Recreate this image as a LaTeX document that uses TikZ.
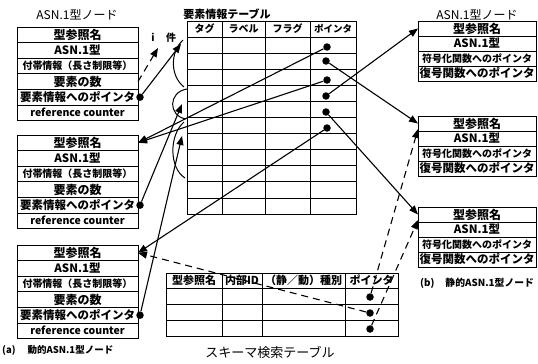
\documentclass[tikz,border=0pt]{standalone}
\usepackage{fontspec}
\setmainfont{Noto Sans CJK JP}
\usetikzlibrary{arrows.meta}
\newcommand{\myfs}[1]{\fontsize{#1}{#1}\selectfont\bfseries}
\newcommand{\myfr}[1]{\fontsize{#1}{#1}\selectfont}
\begin{document}
\begin{tikzpicture}[x=1pt,y=-1pt,
  cell/.style={draw, line width=1pt, anchor=north west, inner sep=0pt, outer sep=0pt},
  lrow/.style={cell, minimum width=121pt, minimum height=15.6pt},
  rrow/.style={cell, minimum width=118pt, minimum height=15pt},
  erow/.style={cell, minimum height=16.1pt},
  srow/.style={cell, minimum height=16pt},
  dot/.style={circle, fill=black, inner sep=0pt, minimum size=7.5pt},
  conn/.style={line width=1.1pt, -{Triangle[length=9pt,width=7pt]}},
  dconn/.style={conn, dash pattern=on 7pt off 5pt},
  brace/.style={line width=1pt},
  lbl/.style={inner sep=0pt},
]
\useasboundingbox (0,0) rectangle (538,364);

% ---------- left (dynamic) ASN.1 nodes ----------
\foreach \n/\t in {L1/27,L2/135,L3/245}{
  \node[lrow,font=\myfs{12}]   (\n-1) at (17,\t) {型参照名};
  \node[lrow,font=\myfs{11.5}] (\n-2) at (17,{\t+15.6}) {ASN.1型};
  \node[lrow,font=\myfs{10}]   (\n-3) at (17,{\t+31.2}) {付帯情報（長さ制限等）};
  \node[lrow,font=\myfs{12}]   (\n-4) at (17,{\t+46.8}) {要素の数};
  \node[lrow,font=\myfs{11.5}] (\n-5) at (17,{\t+62.4}) {要素情報へのポインタ};
  \node[lrow,font=\myfs{10.5}] (\n-6) at (17,{\t+78}) {reference counter};
  \node[dot] (\n-p) at ([xshift=2pt]\n-5.east) {};
}

% ---------- right (static) ASN.1 nodes ----------
\foreach \n/\t in {R1/21,R2/116,R3/207}{
  \node[rrow,font=\myfs{12}]   (\n-1) at (418,\t) {型参照名};
  \node[rrow,font=\myfs{11.5}] (\n-2) at (418,{\t+15}) {ASN.1型};
  \node[rrow,font=\myfs{10}]   (\n-3) at (418,{\t+30}) {符号化関数へのポインタ};
  \node[rrow,font=\myfs{11.5}] (\n-4) at (418,{\t+45}) {復号関数へのポインタ};
}

% ---------- element information table ----------
\node[erow,minimum width=35pt,font=\myfs{10}]  (E-0-1) at (187,21) {タグ};
\node[erow,minimum width=43pt,font=\myfs{10}]  (E-0-2) at (222,21) {ラベル};
\node[erow,minimum width=45pt,font=\myfs{10}]  (E-0-3) at (265,21) {フラグ};
\node[erow,minimum width=46pt,font=\myfs{9.5}] (E-0-4) at (310,21) {ポインタ};
\foreach \r in {1,...,11}{
  \foreach \c/\x/\w in {1/187/35,2/222/43,3/265/45,4/310/46}{
    \node[erow,minimum width=\w pt] (E-\r-\c) at (\x,{37+16.1*(\r-1)}) {};
  }
}

% ---------- schema search table ----------
\node[srow,minimum height=15pt,minimum width=56pt,font=\myfs{11}] (S-0-1) at (166,273) {型参照名};
\node[srow,minimum height=15pt,minimum width=40pt,font=\myfs{11}] (S-0-2) at (222,273) {内部ID};
\node[srow,minimum height=15pt,minimum width=83pt,font=\myfs{11}] (S-0-3) at (262,273) {（静／動）種別};
\node[srow,minimum height=15pt,minimum width=53pt,font=\myfs{11}] (S-0-4) at (345,273) {ポインタ};
\foreach \r in {1,2,3}{
  \foreach \c/\x/\w in {1/166/56,2/222/40,3/262/83,4/345/53}{
    \node[srow,minimum width=\w pt] (S-\r-\c) at (\x,{288+16*(\r-1)}) {};
  }
}

% ---------- titles / captions ----------
\node[lbl,font=\myfr{12}] (t1) at (77,15) {ASN.1型ノード};
\node[lbl,font=\myfr{12}] (t2) at (477,15) {ASN.1型ノード};
\node[lbl,font=\myfs{11}] (t3) at (227,14) {要素情報テーブル};
\node[lbl,font=\myfr{13}] (t4) at (270,352) {スキーマ検索テーブル};
\node[lbl,font=\myfs{9.5},anchor=west] (ca) at (2,350) {(a)\hspace{12pt}動的ASN.1型ノード};
\node[lbl,font=\myfs{9.8},anchor=west] (cb) at (420,283) {(b)\hspace{11pt}静的ASN.1型ノード};
\node[lbl,font=\myfs{10}] (li) at (153,37) {i};
\node[lbl,font=\myfs{10}] (lk) at (171,38) {件};

% ---------- pointer dots ----------
\node[dot] (ed1) at (327,47) {};
\node[dot] (ed2) at (326,61) {};
\node[dot] (ed3) at (327,80) {};
\node[dot] (ed4) at (326,96) {};
\node[dot] (ed5) at (326,112) {};
\node[dot] (ed6) at (327,128) {};
\node[dot] (sd1) at (370,297) {};
\node[dot] (sd2) at (370,313) {};
\node[dot] (sd3) at (370,329) {};

% ---------- range brackets beside the element table ----------
\draw[brace] (183,40) .. controls (170,52) and (170,76) .. (184,87);
\draw[brace] (187,89) .. controls (168,92) and (168,116) .. (186,119);
\draw[brace] (184,122) .. controls (169,135) and (169,168) .. (185,178);

\coordinate (ca1) at (181,44);
\coordinate (ca2) at (182,104);
\coordinate (ca3) at (182,136);
\coordinate (ci)  at (158,48);

% ---------- connectors ----------
\draw[conn]  (L1-p) -- (ca1);
\draw[conn]  (L2-p) -- (ca2);
\draw[conn]  (L3-p) -- (ca3);
\draw[dconn] (L1-4.east) -- (ci);
\draw[conn]  (ed1) -- (L2-1.east);
\draw[conn]  (ed3) -- (L2-1.east);
\draw[conn]  (ed6) -- (L3-1.east);
\draw[conn]  (ed2) -- (R2-1.west);
\draw[conn]  (ed4) -- (R1-1.west);
\draw[conn]  (ed5) -- (R3-1.west);
\draw[dconn] (sd1) -- ([yshift=2pt]R2-1.south west);
\draw[dconn] (sd2) -- (L3-1.east);
\draw[dconn] (sd3) -- ([yshift=2pt]R3-1.south west);
\end{tikzpicture}
\end{document}
